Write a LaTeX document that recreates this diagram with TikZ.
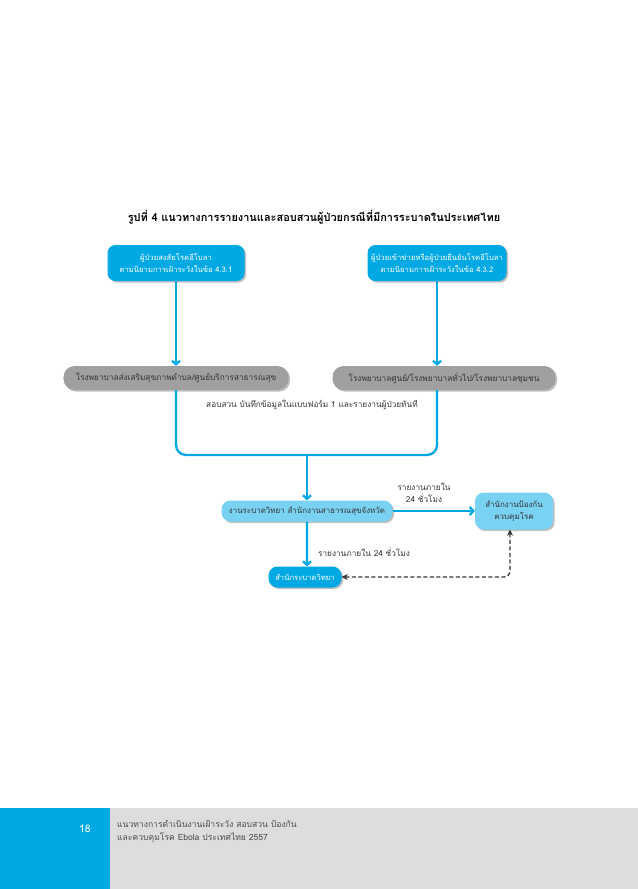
\documentclass[tikz,border=0pt]{standalone}
\usepackage{fontspec}
\setmainfont[Script=Thai]{Loma}
\usetikzlibrary{shapes, arrows.meta, positioning, shadows}
\definecolor{ebblue}{RGB}{0,168,228}
\definecolor{eblight}{RGB}{122,210,242}
\definecolor{ebgray}{RGB}{160,160,160}
\definecolor{ebfoot}{RGB}{221,221,221}

\begin{document}
\begin{tikzpicture}[x=1bp, y=-1bp,
            sh/.style={drop shadow={shadow xshift=1.6bp, shadow yshift=-1.6bp, fill=black!50}},
            pbox/.style={sh, rounded corners=8bp, fill=ebblue, text=white, align=center, inner sep=1bp,
                font=\fontsize{7.7}{11.5}\selectfont},
            gbox/.style={sh, rounded corners=11bp, fill=ebgray, text=black!80, inner sep=1bp,
                minimum width=225bp, minimum height=24bp, font=\fontsize{8.3}{10}\selectfont},
            lbox/.style={sh, rounded corners=9bp, fill=eblight, text=black!80, align=center, inner sep=1bp,
                font=\fontsize{8}{11.5}\selectfont},
            lbl/.style={text=black!80, align=center, inner sep=1bp, font=\fontsize{8.3}{12}\selectfont},
            ln/.style={draw=ebblue, line width=2.3bp},
            arr/.style={ln, -{Straight Barb[length=3.5bp, width=8bp]}},
            dsh/.style={draw=black!80, line width=1.3bp, dash pattern=on 4bp off 2.5bp,
                {Stealth[length=6bp, width=6bp]}-{Stealth[length=6bp, width=6bp]}}]
            \useasboundingbox (0,0) rectangle (638,889);
            % title
            \node[font=\bfseries\fontsize{11}{13}\selectfont] (title) at (314,217)
                {รูปที่ 4 แนวทางการรายงานและสอบสวนผู้ป่วยกรณีที่มีการระบาดในประเทศไทย};
            % top boxes
            \node[pbox, minimum width=137bp, minimum height=36bp] (sus) at (176,263)
                {ผู้ป่วยสงสัยโรคอีโบลา\\ตามนิยามการเฝ้าระวังในข้อ 4.3.1};
            \node[pbox, minimum width=139bp, minimum height=36bp] (conf) at (437,263)
                {ผู้ป่วยเข้าข่ายหรือผู้ป่วยยืนยันโรคอีโบลา\\ตามนิยามการเฝ้าระวังในข้อ 4.3.2};
            % hospitals
            \node[gbox] (rph) at (176,378) {โรงพยาบาลส่งเสริมสุขภาพตำบล/ศูนย์บริการสาธารณสุข};
            \node[gbox, minimum width=223bp] (hosp) at (444,378) {โรงพยาบาลศูนย์/โรงพยาบาลทั่วไป/โรงพยาบาลชุมชน};
            \node[lbl] (inv) at (312,405) {สอบสวน บันทึกข้อมูลในแบบฟอร์ม 1 และรายงานผู้ป่วยทันที};
            % reporting chain
            \node[lbox, minimum width=171bp, minimum height=21bp] (pho) at (307,511)
                {งานระบาดวิทยา สำนักงานสาธารณสุขจังหวัด};
            \node[lbox, minimum width=78bp, minimum height=37bp] (odpc) at (514,511)
                {สำนักงานป้องกัน\\ควบคุมโรค};
            \node[pbox, rounded corners=9bp, minimum width=73bp, minimum height=21bp] (boe) at (305,577)
                {สำนักระบาดวิทยา};
            \node[lbl] (r1) at (424,493) {รายงานภายใน\\24 ชั่วโมง};
            \node[lbl] (r2) at (364,552) {รายงานภายใน 24 ชั่วโมง};
            \coordinate (mid) at (307,455);

            \draw[arr] (sus) -- (sus.south |- rph.north);
            \draw[arr] (conf) -- (conf.south |- hosp.north);
            \draw[ln, rounded corners=10bp] (rph.south) |- (mid) -| (conf.south |- hosp.south);
            \draw[arr] (mid) -- (pho.north);
            \draw[arr] (pho.east) -- (odpc.west);
            \draw[arr] (pho.south -| boe.north) ++(2,0) -- ([xshift=2bp]boe.north);
            \draw[dsh, rounded corners=6bp] (boe.east) -| ([xshift=-4bp]odpc.south);

            % footer
            \fill[ebfoot] (110,808) rectangle (638,889);
            \fill[ebblue] (0,808) rectangle (110,889);
            \node[text=white, font=\fontsize{10.5}{12}\selectfont] (pg) at (85,829) {18};
            \node[anchor=north west, align=left, text=black!70, inner sep=0pt,
                font=\fontsize{8.6}{13}\selectfont] (foot) at (117,820)
                {แนวทางการดำเนินงานเฝ้าระวัง สอบสวน ป้องกัน\\และควบคุมโรค Ebola ประเทศไทย 2557};
        \end{tikzpicture}
\end{document}
